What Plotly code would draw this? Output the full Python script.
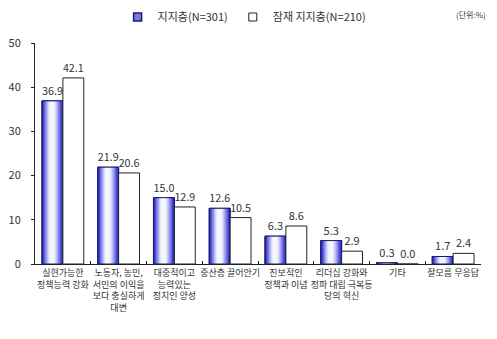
import plotly.graph_objects as go

categories = [
    "실현가능한<br>정책능력 강화",
    "노동자, 농민,<br>서민의 이익을<br>보다 충실하게<br>대변",
    "대중적이고<br>능력있는<br>정치인 양성",
    "중산층 끌어안기",
    "진보적인<br>정책과 이념",
    "리더십 강화와<br>정파 대립 극복등<br>당의 혁신",
    "기타",
    "잘모름 무응답",
]
supporters = [36.9, 21.9, 15.0, 12.6, 6.3, 5.3, 0.3, 1.7]
potential = [42.1, 20.6, 12.9, 10.5, 8.6, 2.9, 0.0, 2.4]
series_names = ["지지층(N=301)", "잠재 지지층(N=210)"]

x = list(range(len(categories)))
W = 0.375
FONT = "Noto Sans CJK KR"

fig = go.Figure()

# gradient-filled blue bars (layers)
grad = ["#2a2ac8", "#4646d4", "#6666dc", "#8888e6", "#a8a8ee", "#c8c8f5", "#e4e4fb", "#f6f6ff"]
n = len(grad)
step = W * 0.46 / n
for k, c in enumerate(grad):
    fig.add_trace(go.Bar(
        x=x, y=supporters,
        offset=-W + k * step * 0.9, width=W - k * step * 1.9,
        marker=dict(color=c, line=dict(width=1 if k == 0 else 0, color="#1a1a70")),
        showlegend=False, hoverinfo="skip",
    ))
# outline + labels for blue bars
fig.add_trace(go.Bar(
    x=x, y=supporters, offset=-W, width=W,
    marker=dict(color="rgba(0,0,0,0)", line=dict(width=1, color="#1a1a70")),
    text=[f"{v:.1f}" for v in supporters], textposition="outside",
    textfont=dict(size=11, color="#333", family=FONT),
    showlegend=False, cliponaxis=False,
))
# white bars
fig.add_trace(go.Bar(
    x=x, y=potential, offset=0, width=W,
    marker=dict(color="white", line=dict(width=1, color="#222")),
    text=[f"{v:.1f}" for v in potential], textposition="outside",
    textfont=dict(size=11, color="#333", family=FONT),
    showlegend=False, cliponaxis=False,
))
# legend entries
fig.add_trace(go.Scatter(
    x=[None], y=[None], mode="markers", name=series_names[0],
    marker=dict(symbol="square", size=8, color="#7a7ae0", line=dict(width=1.5, color="#1a1a70")),
))
fig.add_trace(go.Scatter(
    x=[None], y=[None], mode="markers", name=series_names[1],
    marker=dict(symbol="square", size=8, color="white", line=dict(width=1, color="#222")),
))

fig.update_layout(
    width=497, height=339,
    margin=dict(l=35, r=16, t=43, b=75, autoexpand=False),
    barmode="overlay",
    plot_bgcolor="white", paper_bgcolor="white",
    font=dict(family=FONT, color="#333"),
    legend=dict(orientation="h", x=0.47, xanchor="center",
                yref="container", y=1 - 17 / 339, yanchor="middle",
                font=dict(size=11, color="#333", family=FONT),
                itemwidth=30, bgcolor="rgba(0,0,0,0)"),
    showlegend=True,
)
fig.update_xaxes(
    range=[-0.5, 7.5], tickvals=x, ticktext=categories,
    showline=True, linecolor="#222", linewidth=1,
    ticks="", tickfont=dict(size=9, color="#333", family=FONT), tickangle=0,
    minor=dict(tickvals=[i + 0.5 for i in range(len(categories) - 1)], ticks="inside",
               ticklen=3, tickcolor="#222"),
    showgrid=False, zeroline=False,
)
fig.update_yaxes(
    range=[0, 50], dtick=10, showline=True, linecolor="#222", linewidth=1,
    ticks="outside", ticklen=3, tickcolor="#222",
    tickfont=dict(size=11, color="#333", family=FONT),
    showgrid=False, zeroline=False, ticklabelstandoff=8,
)
fig.add_annotation(text="(단위:%)", xref="paper", yref="paper",
                   x=(471 - 35) / (497 - 35 - 16), y=1 + (43 - 14) / (339 - 43 - 75),
                   xanchor="center", yanchor="middle",
                   showarrow=False, font=dict(size=8, color="#333", family=FONT))

fig.write_html("out.html")
